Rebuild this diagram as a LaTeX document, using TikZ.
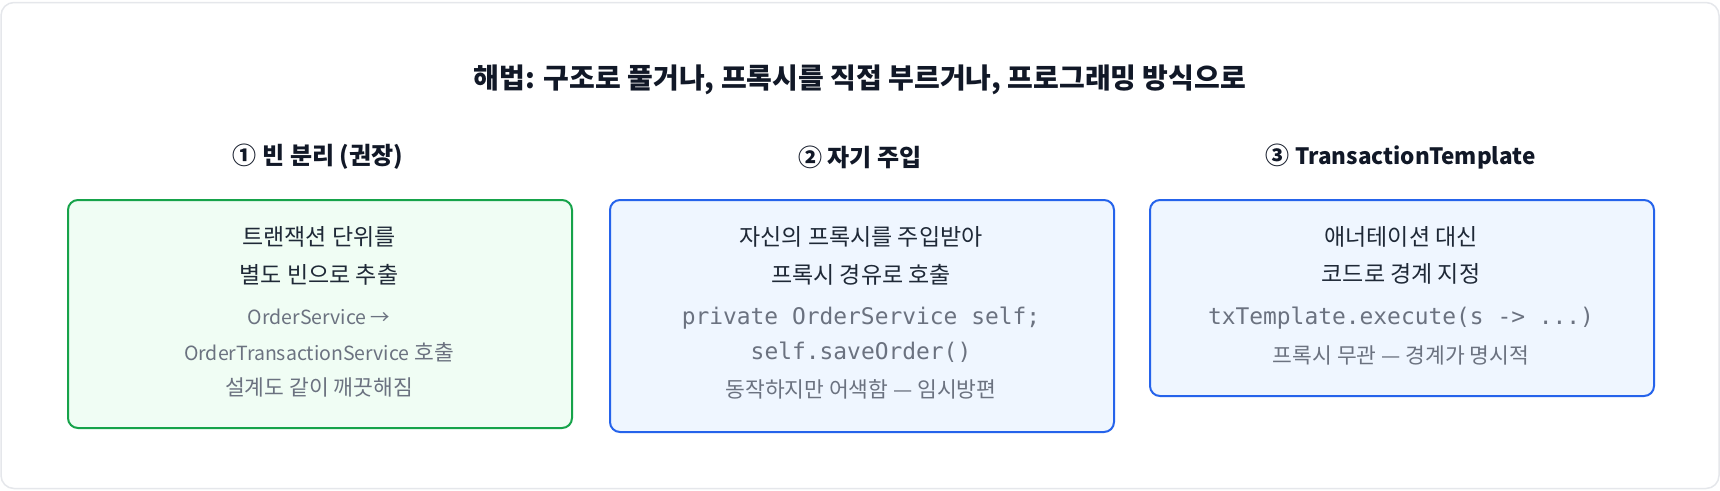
\documentclass[tikz,border=0pt]{standalone}
\usepackage{fontspec}
\setmainfont{Noto Sans CJK KR}
\setmonofont{DejaVu Sans Mono}
\definecolor{framec}{HTML}{E5E7EB}
\definecolor{ink}{HTML}{111827}
\definecolor{ink2}{HTML}{1F2937}
\definecolor{grayc}{HTML}{6B7280}
\definecolor{greenc}{HTML}{16A34A}
\definecolor{greenf}{HTML}{F0FDF4}
\definecolor{bluec}{HTML}{2563EB}
\definecolor{bluef}{HTML}{EFF6FF}
\newcommand{\noteLat}[1]{{\fontsize{19.5}{23}\selectfont #1}}
\newcommand{\headLat}[1]{{\fontsize{22.5}{27}\selectfont #1}}
\begin{document}
\begin{tikzpicture}[x=1pt,y=-1pt,
  outerframe/.style={draw=framec, line width=1.5pt, fill=white, rounded corners=13pt},
  greenbox/.style={draw=greenc, fill=greenf, line width=2pt, rounded corners=10pt, anchor=north west, minimum width=504pt, inner sep=0pt},
  bluebox/.style={draw=bluec, fill=bluef, line width=2pt, rounded corners=10pt, anchor=north west, minimum width=504pt, inner sep=0pt},
  maintitle/.style={font=\bfseries\fontsize{28}{33}\selectfont, text=ink, inner sep=0pt},
  head/.style={font=\bfseries\fontsize{24}{28}\selectfont, text=ink, inner sep=0pt},
  mainline/.style={font=\fontsize{23}{27}\selectfont, text=ink2, inner sep=0pt},
  note/.style={font=\fontsize{21.5}{25}\selectfont, text=grayc, inner sep=0pt},
  code/.style={font=\ttfamily\fontsize{22.9}{27}\selectfont, text=grayc, inner sep=0pt}
]
\useasboundingbox (0,0) rectangle (1720,490);
\draw[outerframe] (1,2.5) rectangle (1719,488.5);

\node[maintitle] (title) at (860,80) {해법: 구조로 풀거나, 프록시를 직접 부르거나, 프로그래밍 방식으로};

% column 1
\node[head] (h1) at (318,157) {① 빈 분리 (권장)};
\node[greenbox, minimum height=228pt] (b1) at (67,199) {};
\node[mainline] (b1a) at (319,237) {트랜잭션 단위를};
\node[mainline] (b1b) at (319,275) {별도 빈으로 추출};
\node[note] (b1c) at (319,317) {\noteLat{OrderService →}};
\node[note] (b1d) at (319,352) {\noteLat{OrderTransactionService} 호출};
\node[note] (b1e) at (319,387) {설계도 같이 깨끗해짐};

% column 2
\node[head] (h2) at (860,157) {② 자기 주입};
\node[bluebox, minimum height=232pt] (b2) at (609,199) {};
\node[mainline] (b2a) at (861,237) {자신의 프록시를 주입받아};
\node[mainline] (b2b) at (861,275) {프록시 경유로 호출};
\node[code] (b2c) at (861,318) {private OrderService self;};
\node[code] (b2d) at (861,352) {self.saveOrder()};
\node[note] (b2e) at (861,389) {동작하지만 어색함 — 임시방편};

% column 3
\node[head] (h3) at (1400.5,157) {③ \headLat{TransactionTemplate}};
\node[bluebox, minimum height=196pt] (b3) at (1149,199) {};
\node[mainline] (b3a) at (1401,237) {애너테이션 대신};
\node[mainline] (b3b) at (1401,274) {코드로 경계 지정};
\node[code] (b3c) at (1401,318) {txTemplate.execute(s -> ...)};
\node[note] (b3d) at (1401,355) {프록시 무관 — 경계가 명시적};
\end{tikzpicture}
\end{document}
